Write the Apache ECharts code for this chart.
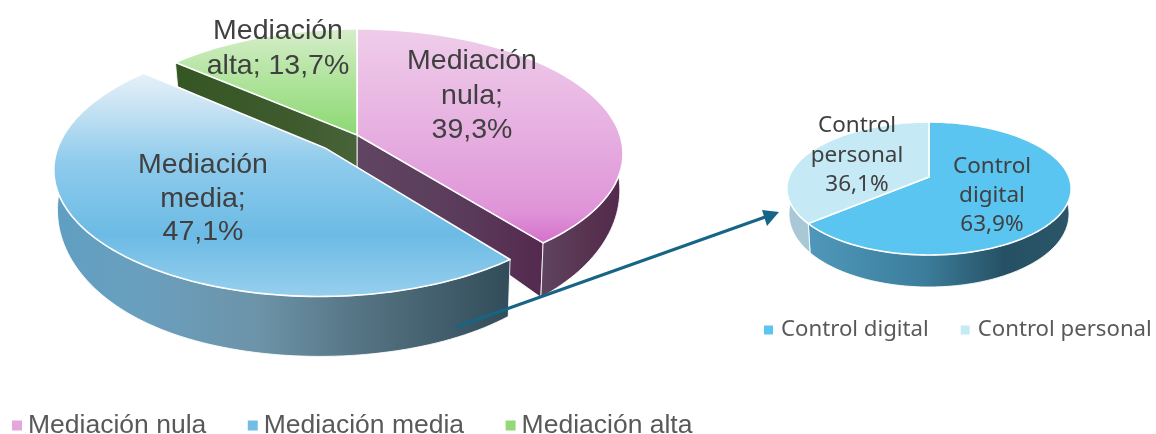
<!DOCTYPE html>
<html><head><meta charset="utf-8">
<style>html,body{margin:0;padding:0;background:#fff}#c{width:1156px;height:434px}</style>
<script src="https://cdn.jsdelivr.net/npm/echarts@6/dist/echarts.min.js"></script>
</head><body><div id="c"></div>
<script>
// ---- data ----
const mainCategories = ['Mediación nula', 'Mediación media', 'Mediación alta'];
const mainValues = [39.3, 47.1, 13.7];
const mainLabels = [['Mediación', 'nula;', '39,3%'], ['Mediación', 'media;', '47,1%'], ['Mediación', 'alta; 13,7%']];
const subCategories = ['Control digital', 'Control personal'];
const subValues = [63.9, 36.1];
const subLabels = [['Control', 'digital', '63,9%'], ['Control', 'personal', '36,1%']];

// ---- pseudo-3D projection ----
const TAU = Math.PI / 180;
function softMin(a, b, k) {
  return -k * Math.log(Math.exp(-a / k) + Math.exp(-b / k));
}
const bigPie = {
  cx: 357, cy: 135, R: 263, Ry: 122, p: 0.15, narrow: 0.988,
  depth: Y => Y < 0 ? 32 + 12 * Y : softMin(32 + 29 * Y, 60.5, 2.5)
};
const smallPie = {
  cx: 929, cy: 177, R: 140, Ry: 64.5, p: 0.173, narrow: 0.985,
  depth: Y => 24 + 8 * Y
};
function world(deg, r, off) {
  return [r * Math.sin(deg * TAU) + off[0], -r * Math.cos(deg * TAU) + off[1]];
}
function top3(g, w) {
  const s = 1 / (1 - g.p * w[1]);
  return [g.cx + g.R * w[0] * s, g.cy + g.Ry * w[1] * s];
}
function bot3(g, w) {
  const t = top3(g, w);
  return [g.cx + (t[0] - g.cx) * g.narrow, t[1] + g.depth(w[1])];
}
function arc(g, fn, a, b, off) {
  const out = [], n = Math.max(2, Math.ceil(Math.abs(b - a) / 1.5));
  for (let i = 0; i <= n; i++) out.push(fn(g, world(a + (b - a) * i / n, 1, off)));
  return out;
}
function vGrad(stops) {
  return { type: 'linear', x: 0, y: 0, x2: 0, y2: 1, colorStops: stops.map(s => ({ offset: s[0], color: s[1] })) };
}
function hGrad(stops) {
  return { type: 'linear', x: 0, y: 0, x2: 1, y2: 0, colorStops: stops.map(s => ({ offset: s[0], color: s[1] })) };
}
function topFace(g, a, b, off, fill) {
  const pts = arc(g, top3, a, b, off);
  pts.unshift(top3(g, off));
  return { type: 'polygon', shape: { points: pts }, style: { fill, stroke: '#fff', lineWidth: 1.6, lineJoin: 'round' }, silent: true };
}
function outerWall(g, a, b, off, fill) {
  const pts = arc(g, top3, a, b, off).concat(arc(g, bot3, b, a, off));
  return { type: 'polygon', shape: { points: pts }, style: { fill, stroke: 'rgba(255,255,255,0.85)', lineWidth: 1 }, silent: true };
}
function radialWall(g, a, off, fill) {
  const pts = [top3(g, off), top3(g, world(a, 1, off)), bot3(g, world(a, 1, off)), bot3(g, off)];
  return { type: 'polygon', shape: { points: pts }, style: { fill, stroke: 'rgba(255,255,255,0.85)', lineWidth: 1 }, silent: true };
}
function labelEls(lines, x, ys, font, fill) {
  return lines.map((t, i) => ({
    type: 'text', silent: true, z2: 50,
    style: { text: t, x, y: ys[i], font, fill, align: 'center', verticalAlign: 'middle' }
  }));
}
function spans(values) {
  const sum = values.reduce((a, b) => a + b, 0);
  let acc = 0;
  return values.map(v => { const a = acc; acc += v / sum * 360; return [a, acc]; });
}
const mainSpans = spans(mainValues);
const subSpans = spans(subValues);
const FONT_BIG = '28.5px "Liberation Sans", Arial, sans-serif';
const FONT_SMALL = '22.5px "Noto Sans", sans-serif';
const TXT = '#404040';
const blueMid = (mainSpans[1][0] + mainSpans[1][1]) / 2;
const EXPLODE = 0.15;
const blueOff = [EXPLODE * Math.sin(blueMid * TAU) - 0.012, -EXPLODE * Math.cos(blueMid * TAU)];
const NO = [0, 0];

const painters = [
  // nula
  () => {
    const [a, b] = mainSpans[0];
    return [
      radialWall(bigPie, b, NO, hGrad([[0, '#604562'], [0.6, '#5a3a5a'], [1, '#54294f']])),
      outerWall(bigPie, 88, b, NO, hGrad([[0, '#5f4560'], [0.6, '#57324f'], [1, '#53294e']])),
      topFace(bigPie, a, b, NO, vGrad([[0, '#efcdea'], [0.5, '#e6aee0'], [0.85, '#df94d8'], [1, '#d56fca']])),
      ...labelEls(mainLabels[0], 472, [61, 96, 130], FONT_BIG, TXT)
    ];
  },
  // media
  () => {
    const [a, b] = mainSpans[1];
    return [
      outerWall(bigPie, a, 273, blueOff, hGrad([[0, '#5f9fc2'], [0.2, '#6a9fbe'], [0.45, '#6c93a8'], [0.7, '#52707f'], [1, '#324c59']])),
      topFace(bigPie, a, b, blueOff, vGrad([[0, '#e6f1f8'], [0.12, '#cfe6f4'], [0.4, '#8fcbec'], [0.72, '#6cbbe5'], [1, '#97cfee']])),
      ...labelEls(mainLabels[1], 203, [165, 199, 232], FONT_BIG, TXT)
    ];
  },
  // alta
  () => {
    const [a, b] = mainSpans[2];
    return [
      radialWall(bigPie, a, NO, hGrad([[0, '#355724'], [0.6, '#3d5a2c'], [1, '#476339']])),
      topFace(bigPie, a, b, NO, vGrad([[0, '#d7eecb'], [0.5, '#aee39a'], [1, '#8dd873']])),
      ...labelEls(mainLabels[2], 278, [31, 66], FONT_BIG, TXT)
    ];
  },
  // digital
  () => {
    const [a, b] = subSpans[0];
    return [
      outerWall(smallPie, 86, b, NO, hGrad([[0, '#4f98bb'], [0.45, '#3b7c9a'], [0.75, '#265063'], [1, '#2b5668']])),
      topFace(smallPie, a, b, NO, '#5bc5f2'),
      ...labelEls(subLabels[0], 992, [167, 196, 225], FONT_SMALL, TXT)
    ];
  },
  // personal
  () => {
    const [a, b] = subSpans[1];
    return [
      outerWall(smallPie, a, 272, NO, '#a9c8d6'),
      topFace(smallPie, a, b, NO, '#c6e9f6'),
      ...labelEls(subLabels[1], 857, [126, 156, 185], FONT_SMALL, TXT)
    ];
  }
];

function customSeries(name, value, color, idx, z) {
  return {
    type: 'custom', name, coordinateSystem: 'none', silent: true, z,
    itemStyle: { color }, data: [[value]], animation: false,
    renderItem: () => ({ type: 'group', children: painters[idx]() })
  };
}
const seriesColors = ['#e3a6dd', '#72bde6', '#94d87a', '#5bc5f2', '#c6e9f6'];
const zOrder = [2, 4, 3, 3, 4];

const chart = echarts.init(document.getElementById('c'), null, { renderer: 'canvas' });
chart.setOption({
  backgroundColor: '#fff',
  animation: false,
  legend: [
    {
      data: mainCategories, left: 12, top: 412, padding: 0, itemGap: 41.5, itemWidth: 10, itemHeight: 10,
      width: 900, icon: 'rect', selectedMode: false,
      textStyle: { fontFamily: '"Liberation Sans", Arial, sans-serif', fontSize: 26.5, color: '#595959', padding: [0, 0, 0, 1] }
    },
    {
      data: subCategories, left: 764, top: 319, padding: 0, itemGap: 32, itemWidth: 9, itemHeight: 9,
      width: 392, icon: 'rect', selectedMode: false,
      textStyle: { fontFamily: '"Noto Sans", sans-serif', fontSize: 22.2, color: '#595959', padding: [0, 0, 0, 3] }
    }
  ],
  series: [
    customSeries(mainCategories[0], mainValues[0], seriesColors[0], 0, zOrder[0]),
    customSeries(mainCategories[1], mainValues[1], seriesColors[1], 1, zOrder[1]),
    customSeries(mainCategories[2], mainValues[2], seriesColors[2], 2, zOrder[2]),
    customSeries(subCategories[0], subValues[0], seriesColors[3], 3, zOrder[3]),
    customSeries(subCategories[1], subValues[1], seriesColors[4], 4, zOrder[4])
  ],
  graphic: [
    { type: 'line', z: 100, silent: true, shape: { x1: 456, y1: 327, x2: 768, y2: 216 }, style: { stroke: '#176586', lineWidth: 3 } },
    { type: 'polygon', z: 100, silent: true, shape: { points: [[779, 212], [762, 210], [767, 226]] }, style: { fill: '#176586' } }
  ]
});
</script></body></html>
